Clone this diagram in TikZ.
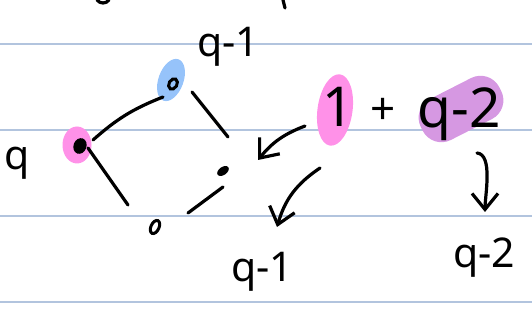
\documentclass[tikz,border=0pt]{standalone}
\usepackage{fontspec}
\setmainfont{Noto Sans}
\usepackage{xcolor}
\usetikzlibrary{arrows.meta,shapes.geometric}
\definecolor{ruling}{RGB}{178,196,222}
\definecolor{hlpink}{RGB}{255,145,232}
\definecolor{hlblue}{RGB}{150,195,250}
\definecolor{hlpurple}{RGB}{214,152,226}
\begin{document}
\begin{tikzpicture}[x=1pt,y=1pt,>={Straight Barb[length=16pt,width=26pt]},
  ink/.style={line width=3.2pt,line cap=round,line join=round},
  hand/.style={font=\fontsize{41}{41}\selectfont,inner sep=0pt,anchor=base},
  big/.style={font=\fontsize{55}{55}\selectfont,inner sep=0pt,anchor=base},
  blob/.style={ellipse,inner sep=0pt},
  dotfill/.style={ellipse,fill=black,inner sep=0pt},
  dotring/.style={ellipse,draw=black,line width=3pt,inner sep=0pt}]
\useasboundingbox (0,0) rectangle (532,320);
\foreach \y in {276,190,104,18}
  \draw[ruling,line width=1.6pt] (0,\y) -- (532,\y);
% highlights
\node[blob,fill=hlpink,minimum width=29pt,minimum height=37pt] (pvhl) at (77,175) {};
\node[blob,fill=hlblue,minimum width=25pt,minimum height=44pt,rotate=-20] (bvhl) at (171,240) {};
\node[blob,fill=hlpink,minimum width=35pt,minimum height=72pt,rotate=-8] (onehl) at (335,210) {};
\node[rectangle,rounded corners=21pt,fill=hlpurple,minimum width=88pt,minimum height=46pt,rotate=27] (qthl) at (461,211) {};
% vertices
\node[dotfill,minimum width=13pt,minimum height=16pt,rotate=-20] (pv) at (80,174) {};
\node[dotring,minimum width=8pt,minimum height=11pt,rotate=-30] (bv) at (173,236) {};
\node[dotfill,minimum width=13pt,minimum height=8pt,rotate=35] (rv) at (223,149) {};
\node[dotring,minimum width=8pt,minimum height=14pt,rotate=-25] (btv) at (155,93) {};
% labels
\node[hand] (qlft) at (17,150) {q};
\node[hand] (qtop) at (228,263) {q-1};
\node[big] (one) at (338,193) {1};
\node[font=\fontsize{44}{44}\selectfont,inner sep=0pt] (plus) at (383,209) {+};
\node[big] (qt2) at (459,192) {q-2};
\node[hand] (qb1) at (262,38) {q-1};
\node[hand] (qb2) at (484,52) {q-2};
% edges
\draw[ink] ([shift={(13,6)}]pv.center) to[bend left=10] ([shift={(-10,-13)}]bv.center);
\draw[ink] ([shift={(19,-8)}]bv.center) -- ([shift={(5,34)}]rv.center);
\draw[ink] ([shift={(8,-2)}]pv.center) -- ([shift={(-27,22)}]btv.center);
\draw[ink] ([shift={(33,14)}]btv.center) -- ([shift={(0,-16)}]rv.center);
% arrows
\draw[ink,->] ([shift={(-33,1)}]one.base) to[bend right=15] ([shift={(35,11)}]rv.center);
\draw[ink,->] ([shift={(-18,-41)}]one.base) to[bend right=20] ([shift={(15,55)}]qb1.base);
\draw[ink,->] ([shift={(18,-25)}]qt2.base) to[out=-5,in=90,looseness=0.7] ([shift={(1,56)}]qb2.base);
% cut-off strokes at the top edge
\draw[ink] (97,320) .. controls (100,316) and (106,316) .. (109,320);
\draw[ink] (283,320) -- (285,312);
\end{tikzpicture}
\end{document}
